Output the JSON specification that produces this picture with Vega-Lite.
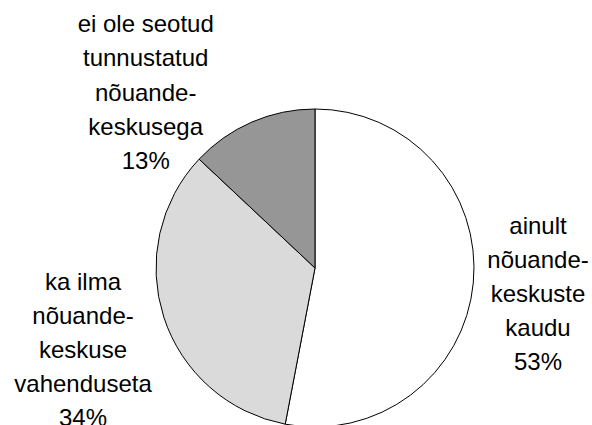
{
  "$schema": "https://vega.github.io/schema/vega-lite/v6.json",
  "autosize": "none",
  "width": 554,
  "height": 314,
  "padding": {"left": 38, "top": 111, "right": 0, "bottom": 0},
  "background": "white",
  "config": {"view": {"stroke": null}},
  "data": {
    "values": [
      {"cat": "ainult nõuandekeskuste kaudu", "ord": 1, "pct": 53, "label": ["ainult", "nõuande-", "keskuste", "kaudu", "53%"]},
      {"cat": "ka ilma nõuandekeskuse vahenduseta", "ord": 2, "pct": 34, "label": ["ka ilma", "nõuande-", "keskuse", "vahenduseta", "34%"]},
      {"cat": "ei ole seotud tunnustatud nõuandekeskusega", "ord": 3, "pct": 13, "label": ["ei ole seotud", "tunnustatud", "nõuande-", "keskusega", "13%"]}
    ]
  },
  "encoding": {
    "theta": {"field": "pct", "type": "quantitative", "stack": true},
    "order": {"field": "ord", "type": "quantitative"}
  },
  "layer": [
    {
      "mark": {"type": "arc", "radius": 159, "stroke": "black", "strokeWidth": 1},
      "encoding": {
        "color": {
          "field": "cat",
          "type": "nominal",
          "legend": null,
          "scale": {
            "domain": ["ainult nõuandekeskuste kaudu", "ka ilma nõuandekeskuse vahenduseta", "ei ole seotud tunnustatud nõuandekeskusega"],
            "range": ["#ffffff", "#dadada", "#969696"]
          }
        }
      }
    },
    {
      "mark": {"type": "text", "radius": 223, "dx": 1, "dy": -62, "font": "Liberation Sans", "fontSize": 24, "lineHeight": 34, "align": "center", "baseline": "middle", "color": "black"},
      "encoding": {"text": {"condition": {"test": "datum.ord == 1", "field": "label"}, "value": ""}}
    },
    {
      "mark": {"type": "text", "radius": 246, "dx": 2, "dy": -61, "font": "Liberation Sans", "fontSize": 24, "lineHeight": 34, "align": "center", "baseline": "middle", "color": "black"},
      "encoding": {"text": {"condition": {"test": "datum.ord == 2", "field": "label"}, "value": ""}}
    },
    {
      "mark": {"type": "text", "radius": 245, "dx": -72, "dy": -18, "font": "Liberation Sans", "fontSize": 24, "lineHeight": 34.2, "align": "center", "baseline": "middle", "color": "black"},
      "encoding": {"text": {"condition": {"test": "datum.ord == 3", "field": "label"}, "value": ""}}
    }
  ]
}
